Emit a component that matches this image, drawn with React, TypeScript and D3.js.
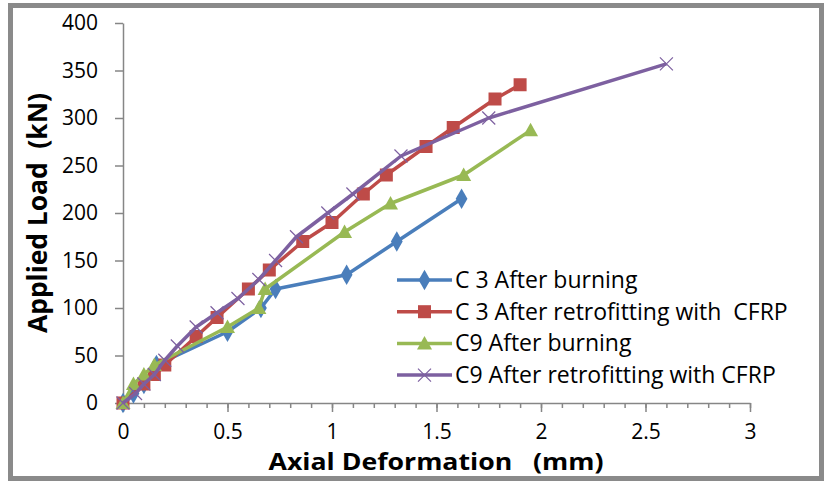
import { useEffect, useRef } from 'react'
import * as d3 from 'd3'

const W = 824, H = 481
const X0 = 123, X1 = 750, Y0 = 403, Y1 = 23

// ── data ──────────────────────────────────────────────────────────────────
const C3_BURN_X = [0, 0.05, 0.1, 0.16, 0.5, 0.66, 0.73, 1.07, 1.31, 1.62]
const C3_BURN_Y = [0, 10, 20, 40, 75, 100, 120, 135, 170, 215]

const C3_RETRO_X = [0, 0.1, 0.15, 0.2, 0.35, 0.45, 0.6, 0.7, 0.86, 1.0, 1.15, 1.26, 1.45, 1.58, 1.78, 1.9]
const C3_RETRO_Y = [0, 20, 30, 40, 70, 90, 120, 140, 170, 190, 220, 240, 270, 290, 320, 335]

const C9_BURN_X = [0, 0.05, 0.1, 0.15, 0.5, 0.65, 0.68, 1.06, 1.28, 1.63, 1.95]
const C9_BURN_Y = [0, 20, 30, 40, 80, 100, 120, 180, 210, 240, 287]

const C9_RETRO_X = [0, 0.06, 0.1, 0.15, 0.2, 0.26, 0.35, 0.45, 0.55, 0.65, 0.73, 0.83, 0.98, 1.1, 1.33, 1.75, 2.6]
const C9_RETRO_Y = [0, 10, 20, 30, 45, 60, 80, 95, 110, 130, 150, 175, 200, 220, 260, 300, 357]

const X_TICKS = [0, 0.5, 1, 1.5, 2, 2.5, 3]
const Y_TICKS = [0, 50, 100, 150, 200, 250, 300, 350, 400]

type Marker = 'diamond' | 'square' | 'triangle' | 'cross'

const SERIES: { label: string, color: string, marker: Marker, xs: number[], ys: number[] }[] = [
  { label: 'C 3 After burning',                  color: '#4A7EBB', marker: 'diamond',  xs: C3_BURN_X,  ys: C3_BURN_Y },
  { label: 'C 3 After retrofitting with  CFRP',  color: '#BE4B48', marker: 'square',   xs: C3_RETRO_X, ys: C3_RETRO_Y },
  { label: 'C9 After burning',                   color: '#98B954', marker: 'triangle', xs: C9_BURN_X,  ys: C9_BURN_Y },
  { label: 'C9 After retrofitting with CFRP',    color: '#7D60A0', marker: 'cross',    xs: C9_RETRO_X, ys: C9_RETRO_Y },
]

const FONT = '"Open Sans", sans-serif'

function drawMarker(g: d3.Selection<SVGGElement, unknown, null, undefined>, kind: Marker, cx: number, cy: number, color: string) {
  if (kind === 'diamond') {
    g.append('path').attr('d', d3.symbol(d3.symbolDiamond, 120)()!)
      .attr('transform', `translate(${cx},${cy})`).attr('fill', color)
  } else if (kind === 'square') {
    g.append('rect').attr('x', cx - 6.5).attr('y', cy - 6.5).attr('width', 13).attr('height', 13).attr('fill', color)
  } else if (kind === 'triangle') {
    g.append('path').attr('d', `M${cx},${cy - 7.5}L${cx + 7.5},${cy + 6}L${cx - 7.5},${cy + 6}Z`).attr('fill', color)
  } else {
    const s = 6.5
    g.append('path').attr('d', `M${cx - s},${cy - s}L${cx + s},${cy + s}M${cx - s},${cy + s}L${cx + s},${cy - s}`)
      .attr('stroke', color).attr('stroke-width', 1.2).attr('fill', 'none')
  }
}

export default function App() {
  const svgRef = useRef<SVGSVGElement>(null)

  useEffect(() => {
    const svg = d3.select(svgRef.current!)
    svg.selectAll('*').remove()

    const x = d3.scaleLinear().domain([0, 3]).range([X0, X1])
    const y = d3.scaleLinear().domain([0, 400]).range([Y0, Y1])

    // ── frame ─────────────────────────────────────────────────────────────
    svg.append('rect').attr('x', 0).attr('y', 0).attr('width', W).attr('height', H).attr('fill', '#fff')
    svg.append('rect').attr('x', 10.5).attr('y', 5.5).attr('width', 811).attr('height', 473)
      .attr('fill', 'none').attr('stroke', '#8a8a8a').attr('stroke-width', 5)

    // ── y axis ────────────────────────────────────────────────────────────
    svg.append('g').attr('transform', `translate(${X0},0)`)
      .call(d3.axisLeft(y).tickValues(Y_TICKS).tickSize(8).tickPadding(17).tickSizeOuter(0))
      .call(ax => {
        ax.select('.domain').attr('stroke', '#868686').attr('stroke-width', 1.5)
        ax.selectAll('.tick line').attr('stroke', '#868686').attr('stroke-width', 1.5)
        ax.selectAll('.tick text').attr('font-size', 21).attr('font-family', FONT).attr('fill', '#000')
      })

    // ── x axis ────────────────────────────────────────────────────────────
    svg.append('g').attr('transform', `translate(0,${Y0})`)
      .call(d3.axisBottom(x).ticks(30).tickFormat(() => '').tickSize(5).tickSizeOuter(0))
      .call(ax => {
        ax.select('.domain').attr('stroke', '#868686').attr('stroke-width', 1.5)
        ax.selectAll('.tick line').attr('stroke', '#868686').attr('stroke-width', 1.5)
      })
    svg.append('g').attr('transform', `translate(0,${Y0})`)
      .call(d3.axisBottom(x).tickValues(X_TICKS).tickFormat(d => String(d)).tickSize(9).tickPadding(12).tickSizeOuter(0))
      .call(ax => {
        ax.select('.domain').remove()
        ax.selectAll('.tick line').attr('stroke', '#868686').attr('stroke-width', 1.5)
        ax.selectAll('.tick text').attr('font-size', 21).attr('font-family', FONT).attr('fill', '#000')
      })

    // ── axis titles ───────────────────────────────────────────────────────
    svg.append('text')
      .attr('transform', `translate(47,213) rotate(-90)`)
      .attr('text-anchor', 'middle').attr('font-size', 26).attr('font-weight', 700)
      .attr('font-family', FONT).attr('textLength', 240).attr('lengthAdjust', 'spacingAndGlyphs')
      .style('white-space', 'pre')
      .text('Applied Load  (kN)')

    svg.append('text')
      .attr('x', 436).attr('y', 470)
      .attr('text-anchor', 'middle').attr('font-size', 24).attr('font-weight', 700)
      .attr('font-family', FONT).attr('textLength', 335).attr('lengthAdjust', 'spacingAndGlyphs')
      .style('white-space', 'pre')
      .text('Axial Deformation   (mm)')

    // ── series ────────────────────────────────────────────────────────────
    SERIES.forEach(s => {
      const pts = s.xs.map((v, i) => [v, s.ys[i]] as [number, number])
      const g = svg.append('g')
      g.append('path')
        .attr('d', d3.line<[number, number]>().x(d => x(d[0])).y(d => y(d[1]))(pts)!)
        .attr('fill', 'none').attr('stroke', s.color).attr('stroke-width', 3.5)
        .attr('stroke-linejoin', 'round')
      pts.forEach(p => drawMarker(g, s.marker, x(p[0]), y(p[1]), s.color))
    })

    // ── legend ────────────────────────────────────────────────────────────
    const leg = svg.append('g')
    SERIES.forEach((s, i) => {
      const cy = 280 + i * 31.7
      const lg = leg.append('g')
      lg.append('line').attr('x1', 397).attr('x2', 452).attr('y1', cy).attr('y2', cy)
        .attr('stroke', s.color).attr('stroke-width', 3.5)
      drawMarker(lg, s.marker, 424.5, cy, s.color)
      lg.append('text').attr('x', 455).attr('y', cy + 8)
        .attr('font-size', 23).attr('font-family', FONT).attr('fill', '#000')
        .style('white-space', 'pre')
        .text(s.label)
    })
  }, [])

  return (
    <svg ref={svgRef} width={W} height={H}
      style={{ position: 'absolute', left: 0, top: 0, display: 'block' }} />
  )
}
